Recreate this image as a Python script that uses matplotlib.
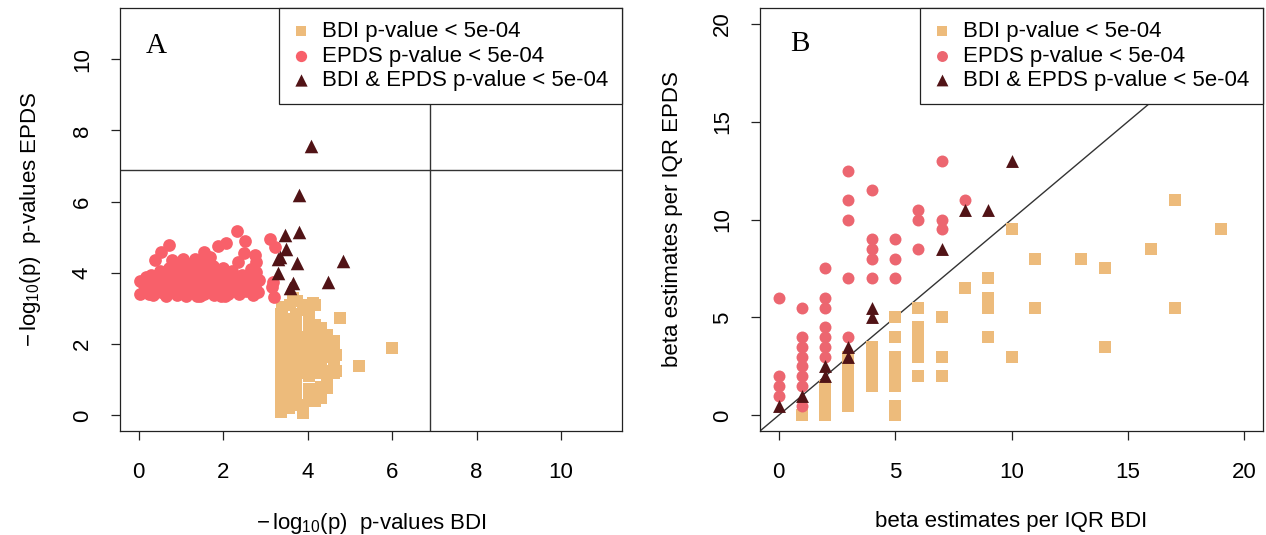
import matplotlib
matplotlib.use("Agg")
import matplotlib.pyplot as plt

plt.rcParams["font.family"] = ["Liberation Sans", "DejaVu Sans"]
plt.rcParams["mathtext.fontset"] = "custom"
plt.rcParams["mathtext.rm"] = "Liberation Sans"
plt.rcParams["mathtext.it"] = "Liberation Sans"

# ---------------- Panel A: -log10(p) of BDI vs EPDS ----------------
# BDI p-value < 5e-04 only
a_bdi_x = [3.38, 3.38, 3.38, 3.38, 3.38, 3.38, 3.38, 3.38, 3.38, 3.38, 3.38, 3.38, 3.39,
           3.56, 3.56, 3.56, 3.56, 3.56, 3.56, 3.56, 3.56, 3.56, 3.56, 3.56, 3.66, 3.58,
           3.72, 3.72, 3.72, 3.72, 3.72, 3.72, 3.72, 3.72, 3.72, 3.72, 3.72, 3.74,
           3.89, 3.88, 3.88, 3.88, 3.88, 3.88, 3.88, 3.90, 3.88,
           4.03, 4.03, 4.03, 4.03, 4.03, 4.03, 4.03, 4.03, 4.03, 4.03, 4.13,
           4.18, 4.18, 4.18, 4.18, 4.18, 4.18, 4.18, 4.18,
           4.32, 4.32, 4.32, 4.32, 4.32, 4.32, 4.32,
           4.47, 4.47, 4.47, 4.47, 4.47, 4.47,
           4.62, 4.62, 4.62, 4.62, 4.68, 4.66,
           4.77, 5.22, 5.99]
a_bdi_y = [0.10, 0.35, 0.60, 0.85, 1.10, 1.35, 1.60, 1.85, 2.10, 2.35, 2.60, 2.85, 3.05,
           0.20, 0.45, 0.70, 0.95, 1.20, 1.45, 1.70, 1.95, 2.20, 2.45, 2.70, 3.29, 3.10,
           0.30, 0.55, 0.80, 1.05, 1.30, 1.55, 1.80, 2.05, 2.30, 2.60, 2.85, 3.20,
           0.07, 0.30, 1.20, 1.45, 1.70, 1.95, 2.20, 2.96, 3.10,
           0.50, 0.75, 1.10, 1.35, 1.60, 1.85, 2.10, 2.35, 2.60, 2.85, 3.15,
           0.40, 1.20, 1.50, 1.75, 2.00, 2.30, 2.55, 3.10,
           0.50, 0.80, 1.30, 1.55, 1.85, 2.15, 2.45,
           0.78, 1.05, 1.25, 1.65, 1.95, 2.25,
           1.20, 1.55, 1.80, 2.10, 1.25, 1.70,
           2.72, 1.39, 1.88]

# EPDS p-value < 5e-04 only
a_epds_x = [0.03, 0.03, 0.12, 0.18, 0.22, 0.28, 0.30, 0.35, 0.40, 0.42, 0.45, 0.50, 0.52,
            0.54, 0.58, 0.60, 0.65, 0.68, 0.71, 0.72, 0.75, 0.78, 0.80, 0.85, 0.88, 0.90,
            0.95, 0.98, 1.02, 1.05, 1.08, 1.10, 1.12, 1.15, 1.18, 1.20, 1.25, 1.28, 1.30,
            1.33, 1.35, 1.38, 1.40, 1.42, 1.45, 1.48, 1.50, 1.52, 1.55, 1.55, 1.58, 1.60,
            1.62, 1.65, 1.68, 1.70, 1.72, 1.75, 1.78, 1.80, 1.85, 1.88, 1.89, 1.92, 1.95,
            2.00, 2.02, 2.08, 2.10, 2.12, 2.15, 2.20, 2.25, 2.30, 2.34, 2.35, 2.38, 2.42,
            2.45, 2.49, 2.52, 2.55, 2.60, 2.65, 2.70, 2.75, 2.75, 2.79, 2.79, 2.82, 2.85,
            3.11, 3.23, 3.15, 3.20, 3.18,
            0.25, 0.62, 0.95, 1.22, 1.45, 1.72, 2.05, 2.35, 0.48, 0.82, 1.35, 1.95]
a_epds_y = [3.42, 3.78, 3.65, 3.88, 3.50, 3.72, 3.95, 3.38, 4.35, 3.60, 3.85, 4.05, 3.45,
            4.59, 3.75, 3.95, 3.35, 3.62, 4.79, 4.15, 3.85, 4.36, 3.50, 4.00, 3.70, 3.38,
            4.20, 3.90, 3.55, 4.38, 3.75, 4.05, 3.35, 3.62, 4.25, 3.90, 3.45, 4.10, 3.70,
            4.40, 3.95, 3.36, 3.80, 4.20, 3.55, 4.00, 3.68, 4.32, 4.60, 3.40, 3.85, 4.12,
            3.60, 3.95, 4.45, 3.50, 3.75, 4.20, 3.38, 3.90, 3.62, 4.05, 4.76, 3.45, 3.80,
            4.15, 3.60, 4.83, 3.95, 3.40, 3.72, 4.05, 3.55, 3.85, 5.19, 4.30, 3.40, 3.65,
            3.95, 4.55, 4.90, 3.50, 3.80, 4.10, 3.38, 3.62, 4.50, 4.31, 4.03, 3.45, 3.80,
            4.94, 4.74, 3.61, 3.33, 3.75,
            3.40, 3.48, 3.65, 3.52, 3.35, 3.58, 3.36, 3.52, 3.68, 3.82, 3.50, 3.35]

# Both BDI and EPDS p-value < 5e-04
a_both_x = [4.08, 3.80, 3.46, 3.80, 3.49, 3.35, 3.30, 3.74, 4.84, 3.31, 3.65, 3.58, 4.49]
a_both_y = [7.56, 6.19, 5.06, 5.16, 4.66, 4.46, 4.38, 4.27, 4.34, 3.99, 3.71, 3.57, 3.74]

a_threshold = 6.9

# ---------------- Panel B: beta estimates per IQR ----------------
b_bdi_x = [1, 2, 2, 2, 2, 3, 3, 3, 3, 3, 3, 4, 4, 4, 4, 4,
           5, 5, 5, 5, 5, 5, 5, 5, 6, 6, 6, 6, 6, 6, 7, 7, 7,
           8, 9, 9, 9, 9, 10, 10, 11, 11, 13, 14, 14, 16, 17, 17, 19]
b_bdi_y = [0, 0, 0.5, 1, 1.5, 0.5, 1, 1.5, 2, 2.5, 3, 1.5, 2, 2.5, 3, 3.5,
           0, 0.5, 1.5, 2, 2.5, 3, 4, 5, 2, 3, 3.5, 4, 4.5, 5.5, 2, 3, 5,
           6.5, 4, 5.5, 6, 7, 3, 9.5, 5.5, 8, 8, 3.5, 7.5, 8.5, 5.5, 11, 9.5]

b_epds_x = [0, 0, 0, 0, 1, 1, 1, 1, 1, 1, 1, 1, 2, 2, 2, 2, 2, 2, 2,
            3, 3, 3, 3, 3, 4, 4, 4, 4, 4, 5, 5, 5, 6, 6, 6, 7, 7, 7, 8]
b_epds_y = [6, 2, 1.5, 1, 5.5, 4, 3.5, 3, 2.5, 2, 1.5, 0.5,
            7.5, 6, 5.5, 4.5, 4, 3.5, 3,
            12.5, 11, 10, 7, 4, 11.5, 9, 8.5, 8, 7, 9, 8, 7,
            10.5, 10, 8.5, 13, 10, 9.5, 11]

b_both_x = [0, 1, 2, 2, 3, 3, 4, 4, 7, 8, 9, 10]
b_both_y = [0.5, 1, 2, 2.5, 3, 3.5, 5, 5.5, 8.5, 10.5, 10.5, 13]

legend_labels = ["BDI p-value < 5e-04", "EPDS p-value < 5e-04",
                 "BDI & EPDS p-value < 5e-04"]

col_bdi = "#EDBB7B"
col_epds_a = "#F8606A"
col_epds_b = "#EC6670"
col_both = "#511316"

FS = 16

fig = plt.figure(figsize=(12.66, 5.35), dpi=100)
W, H = 1266.0, 535.0
axA = fig.add_axes([120 / W, (H - 431) / H, 502 / W, 423 / H])
axB = fig.add_axes([760 / W, (H - 431) / H, 503 / W, 423 / H])


def style_axes(ax):
    for sp in ax.spines.values():
        sp.set_linewidth(0.9)
        sp.set_color("#222222")
    ax.tick_params(axis="both", direction="out", length=6.5, width=0.9,
                   color="#222222", labelsize=FS, top=False, right=False)
    ax.tick_params(axis="x", pad=16)
    ax.tick_params(axis="y", pad=13)
    for lab in ax.get_yticklabels():
        lab.set_rotation(90)
        lab.set_va("center")


def add_legend(ax, handles, sizes):
    leg = ax.legend(handles, legend_labels, loc="upper right", borderaxespad=0,
                    fontsize=FS, frameon=True, fancybox=False, framealpha=1,
                    edgecolor="#222222", borderpad=0.6, labelspacing=0.15,
                    handlelength=0.8, handletextpad=0.55, scatterpoints=1)
    leg.get_frame().set_linewidth(0.9)
    for h, s in zip(leg.legend_handles, sizes):
        h.set_sizes([s])
    leg.set_zorder(10)


# Panel A
hA1 = axA.scatter(a_bdi_x, a_bdi_y, marker="s", s=78, color=col_bdi, linewidths=0, zorder=2)
hA2 = axA.scatter(a_epds_x, a_epds_y, marker="o", s=84, color=col_epds_a, linewidths=0, zorder=3)
hA3 = axA.scatter(a_both_x, a_both_y, marker="^", s=95, color=col_both, linewidths=0, zorder=4)
axA.axhline(a_threshold, color="#333333", lw=1.0, zorder=1)
axA.axvline(a_threshold, color="#333333", lw=1.0, zorder=1)
axA.set_xlim(-0.44, 11.44)
axA.set_ylim(-0.44, 11.44)
axA.set_xticks([0, 2, 4, 6, 8, 10])
axA.set_yticks([0, 2, 4, 6, 8, 10])
style_axes(axA)
axA.set_xlabel(r"$\mathrm{-\,log_{10}(p)}$  p-values BDI", fontsize=FS, labelpad=20)
axA.set_ylabel(r"$\mathrm{-\,log_{10}(p)}$  p-values EPDS", fontsize=FS, labelpad=21)
add_legend(axA, [hA1, hA2, hA3], [62, 66, 78])
axA.text(0.072, 0.91, "A", transform=axA.transAxes, fontsize=21,
         family="Liberation Serif", ha="center", va="center")

# Panel B
hB1 = axB.scatter(b_bdi_x, b_bdi_y, marker="s", s=66, color=col_bdi, linewidths=0, zorder=2)
hB2 = axB.scatter(b_epds_x, b_epds_y, marker="o", s=74, color=col_epds_b, linewidths=0, zorder=3)
hB3 = axB.scatter(b_both_x, b_both_y, marker="^", s=86, color=col_both, linewidths=0, zorder=4)
axB.axline((0, 0), slope=1, color="#333333", lw=1.0, zorder=1)
axB.set_xlim(-0.8, 20.8)
axB.set_ylim(-0.8, 20.8)
axB.set_xticks([0, 5, 10, 15, 20])
axB.set_yticks([0, 5, 10, 15, 20])
style_axes(axB)
axB.set_xlabel("beta estimates per IQR BDI", fontsize=FS, labelpad=20)
axB.set_ylabel("beta estimates per IQR EPDS", fontsize=FS, labelpad=21)
add_legend(axB, [hB1, hB2, hB3], [56, 62, 72])
axB.text(0.08, 0.915, "B", transform=axB.transAxes, fontsize=21,
         family="Liberation Serif", ha="center", va="center")

fig.savefig("out.png", dpi=100)
